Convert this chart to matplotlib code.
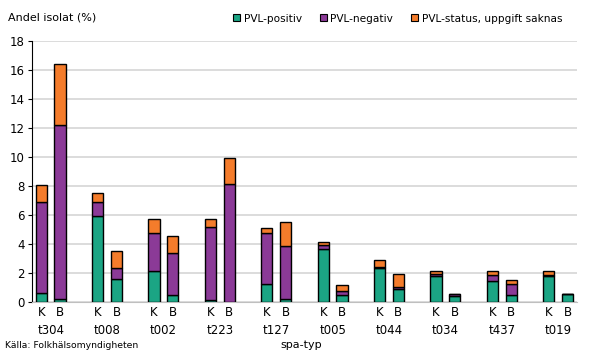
import numpy as np
import matplotlib
matplotlib.use("Agg")
import matplotlib.pyplot as plt
from matplotlib.patches import Patch

plt.rcParams["font.family"] = ["DejaVu Sans"]

groups = ["t304", "t008", "t002", "t223", "t127", "t005", "t044", "t034", "t437", "t019"]
# K = klinisk, B = bärarskap
pos_k = [0.62, 5.96, 2.15, 0.15, 1.28, 3.65, 2.34, 1.79, 1.47, 1.83]
neg_k = [6.26, 0.94, 2.60, 5.05, 3.47, 0.27, 0.06, 0.18, 0.39, 0.07]
na_k = [1.17, 0.64, 0.96, 0.51, 0.38, 0.21, 0.53, 0.16, 0.27, 0.23]
pos_b = [0.20, 1.58, 0.50, 0.05, 0.20, 0.50, 0.92, 0.41, 0.50, 0.55]
neg_b = [12.00, 0.80, 2.87, 8.09, 3.65, 0.30, 0.11, 0.16, 0.78, 0.00]
na_b = [4.18, 1.12, 1.17, 1.81, 1.70, 0.41, 0.94, 0.03, 0.23, 0.03]

labels = ["PVL-positiv", "PVL-negativ", "PVL-status, uppgift saknas"]
colors = ["#1ba584", "#8b3a97", "#f47c2b"]

# K, B, blank per group
xk = np.arange(len(groups)) * 3
xb = xk + 1

fig = plt.figure(figsize=(5.9, 3.56), dpi=100)
ax = fig.add_axes([0.054, 0.151, 0.924, 0.735])

w = 0.6
for x, series in ((xk, (pos_k, neg_k, na_k)), (xb, (pos_b, neg_b, na_b))):
    bottom = np.zeros(len(groups))
    for vals, c in zip(series, colors):
        ax.bar(x, vals, width=w, bottom=bottom, color=c, edgecolor="black", linewidth=1.0, zorder=3)
        bottom += np.array(vals)

ax.set_xlim(-0.5, 28.5)
ax.set_ylim(0, 18)
ax.set_yticks(range(0, 19, 2))
ax.yaxis.grid(True, color="#d9d9d9", linewidth=1.3, zorder=0)
ax.set_axisbelow(True)
for s in ("top", "right"):
    ax.spines[s].set_visible(False)
ax.spines["bottom"].set_color("#bfbfbf")
ax.spines["left"].set_color("black")
ax.tick_params(axis="y", labelsize=8.5, length=3, width=0.8, pad=2)
ax.set_xticks(np.concatenate([xk, xb]))
ax.set_xticklabels(["K"] * len(groups) + ["B"] * len(groups), fontsize=8.5)
ax.tick_params(axis="x", length=0, pad=3)

for x, g in zip(xk, groups):
    ax.text(x + 0.5, -0.085, g, transform=ax.get_xaxis_transform(), ha="center", va="top", fontsize=8.5)

fig.text(0.014, 0.95, "Andel isolat (%)", fontsize=8, ha="left", va="center")
fig.text(0.008, 0.03, "Källa: Folkhälsomyndigheten", fontsize=6.7, ha="left", va="center")
fig.text(0.51, 0.03, "spa-typ", fontsize=8, ha="center", va="center")

handles = [Patch(facecolor=c, edgecolor="black", linewidth=0.8) for c in colors]
fig.legend(handles, labels, ncol=3, loc="center right", bbox_to_anchor=(0.96, 0.948),
           frameon=False, fontsize=7.6, handlelength=0.65, handleheight=0.65,
           handletextpad=0.35, columnspacing=1.7, borderaxespad=0)

fig.savefig("out.png", dpi=100)
